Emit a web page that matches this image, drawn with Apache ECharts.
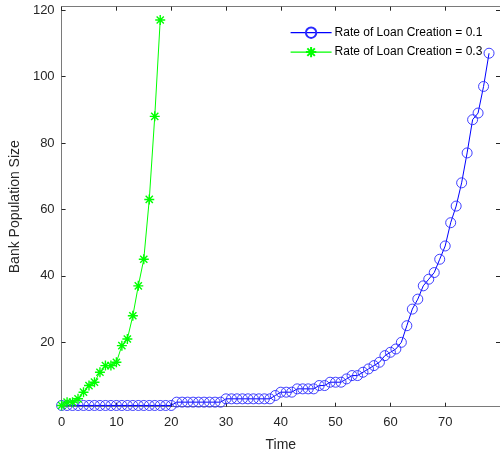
<!DOCTYPE html>
<html>
<head>
<meta charset="utf-8">
<script src="https://cdn.jsdelivr.net/npm/echarts@6/dist/echarts.min.js"></script>
<style>
  html, body { margin: 0; padding: 0; background: #fff; }
  #chart { width: 500px; height: 459px; }
</style>
</head>
<body>
<div id="chart"></div>
<script>
// time steps
const timeSlow = Array.from({ length: 79 }, (_, i) => i)
const timeFast = Array.from({ length: 19 }, (_, i) => i)

// bank population, rate of loan creation = 0.1
const popSlow = [
  1, 1, 1, 1, 1, 1, 1, 1, 1, 1, 1, 1, 1, 1, 1, 1, 1, 1, 1, 1, 1,
  2, 2, 2, 2, 2, 2, 2, 2, 2,
  3, 3, 3, 3, 3, 3, 3, 3, 3,
  4, 5, 5, 5, 6, 6, 6, 6, 7, 7, 8, 8, 8, 9, 10, 10,
  11, 12, 13, 14, 16, 17, 18, 20, 25, 30, 33, 37, 39, 41, 45, 49,
  56, 61, 68, 77, 87, 89, 97, 107,
]
// bank population, rate of loan creation = 0.3
const popFast = [1, 2, 2, 3, 5, 7, 8, 11, 13, 13, 14, 19, 21, 28, 37, 45, 63, 88, 117]

const yTicks = [20, 40, 60, 80, 100, 120]
const seriesNames = ['Rate of Loan Creation = 0.1', 'Rate of Loan Creation = 0.3']

const FONT = 'Liberation Sans, Arial, sans-serif'
const AXIS_LINE = '#7a7a7a'
const TICK = '#262626'
const X_MIN = 0
const X_MAX = 80
const Y_MIN = 0.63
const Y_MAX = 121

const asterisk = 'path://M0,-5L0,5M-5,0L5,0M-3.6,-3.6L3.6,3.6M-3.6,3.6L3.6,-3.6'

const chart = echarts.init(document.getElementById('chart'))

const xBase = {
  type: 'value',
  min: X_MIN,
  max: X_MAX,
  interval: 10,
  splitLine: { show: false },
  axisLine: { show: true, onZero: false, lineStyle: { color: AXIS_LINE, width: 1 } },
  axisTick: { show: true, inside: true, length: 4, lineStyle: { color: TICK } },
}
const yBase = {
  type: 'value',
  min: Y_MIN,
  max: Y_MAX,
  splitLine: { show: false },
  axisLine: { show: true, onZero: false, lineStyle: { color: AXIS_LINE, width: 1 } },
  axisTick: { show: true, inside: true, length: 4, customValues: yTicks, lineStyle: { color: TICK } },
}

const options = {
  animation: false,
  backgroundColor: '#fff',
  grid: { left: 57, right: -2.4, top: 6.7, bottom: 52.3, containLabel: false },
  legend: {
    left: 290,
    top: 26.5,
    padding: 0,
    orient: 'vertical',
    itemWidth: 41,
    itemHeight: 13,
    itemGap: 7,
    lineStyle: { width: 1.2 },
    textStyle: { fontFamily: FONT, fontSize: 12, color: '#000', padding: [0, 0, 0, -2] },
    data: seriesNames,
  },
  xAxis: [
    {
      ...xBase,
      position: 'bottom',
      name: 'Time',
      nameLocation: 'middle',
      nameGap: 31,
      nameTextStyle: { fontFamily: FONT, fontSize: 14, color: TICK },
      axisLabel: { fontFamily: FONT, fontSize: 13, color: TICK, margin: 9, showMaxLabel: false },
    },
    {
      ...xBase,
      position: 'top',
      axisLabel: { show: false },
    },
  ],
  yAxis: [
    {
      ...yBase,
      position: 'left',
      name: 'Bank Population Size',
      nameLocation: 'middle',
      nameGap: 37,
      nameTextStyle: { fontFamily: FONT, fontSize: 14, color: TICK },
      axisLabel: { fontFamily: FONT, fontSize: 13, color: TICK, margin: 7, customValues: yTicks },
    },
    {
      ...yBase,
      position: 'right',
      axisLabel: { show: false },
    },
  ],
  series: [
    {
      name: seriesNames[0],
      type: 'line',
      xAxisIndex: 0,
      yAxisIndex: 0,
      data: timeSlow.map((t, i) => [t, popSlow[i]]),
      symbol: 'circle',
      symbolSize: 10,
      showAllSymbol: true,
      lineStyle: { color: '#0000ff', width: 1 },
      itemStyle: { color: 'rgba(255,255,255,0)', borderColor: '#2a2aff', borderWidth: 0.9 },
      z: 2,
    },
    {
      name: seriesNames[1],
      type: 'line',
      xAxisIndex: 0,
      yAxisIndex: 0,
      data: timeFast.map((t, i) => [t, popFast[i]]),
      symbol: asterisk,
      symbolSize: 10,
      showAllSymbol: true,
      lineStyle: { color: '#00ff00', width: 1 },
      itemStyle: { color: '#00ff00', borderColor: '#00ff00', borderWidth: 1.4 },
      z: 3,
    },
  ],
}

chart.setOption(options)
</script>
</body>
</html>
